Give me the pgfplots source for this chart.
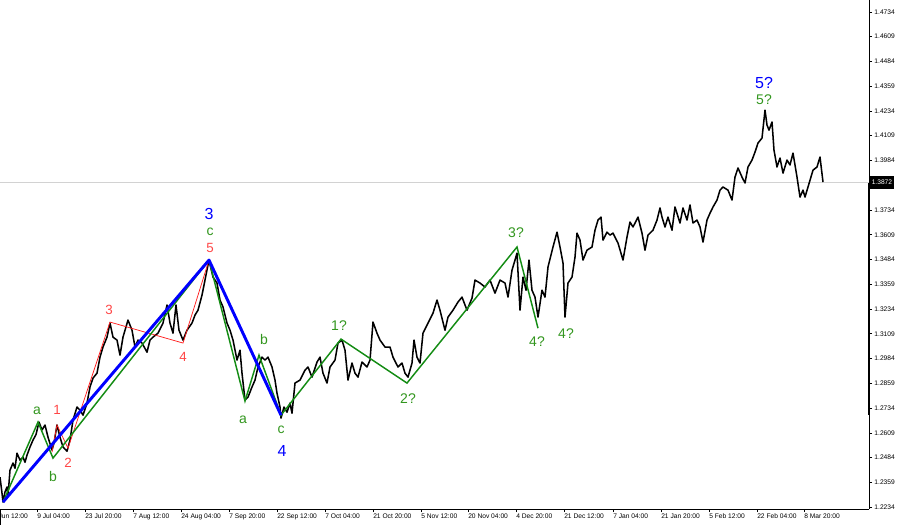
\documentclass[border=0pt]{standalone}
\usepackage{pgfplots}
\pgfplotsset{compat=1.18}
\usepackage{pgfplotstable}
\usepackage{fontspec}
\setmainfont{Liberation Sans}
\definecolor{wblue}{RGB}{0,0,255}
\definecolor{wgreen}{RGB}{20,140,20}
\definecolor{wgreenlab}{RGB}{50,150,30}
\definecolor{wred}{RGB}{255,30,30}
\definecolor{wredlab}{RGB}{255,70,70}

\pgfplotstableread{
x y
0 1.2385
2 1.2304
3 1.2259
5 1.2310
7 1.2335
8 1.2290
10 1.2420
13 1.2456
15 1.2430
17 1.2506
20 1.2471
23 1.2486
25 1.2460
27 1.2496
30 1.2537
33 1.2572
36 1.2600
39 1.2663
42 1.2623
45 1.2648
48 1.2587
52 1.2522
54 1.2557
57 1.2648
60 1.2587
63 1.2537
67 1.2516
70 1.2572
73 1.2673
77 1.2739
80 1.2723
83 1.2698
87 1.2759
90 1.2840
93 1.2885
97 1.2910
100 1.2991
103 1.3042
107 1.3092
110 1.3163
113 1.3092
117 1.3077
120 1.3001
123 1.3092
128 1.3178
132 1.3127
135 1.3042
138 1.3077
142 1.3062
147 1.3016
150 1.3077
153 1.3092
158 1.3112
163 1.3163
167 1.3254
170 1.3163
173 1.3112
176 1.3254
179 1.3127
183 1.3077
187 1.3127
192 1.3163
195 1.3203
198 1.3228
202 1.3304
205 1.3380
209 1.3481
213 1.3395
217 1.3365
220 1.3279
223 1.3244
227 1.3163
230 1.3127
233 1.3077
237 1.2976
240 1.3026
242 1.2910
245 1.2774
248 1.2789
252 1.2840
255 1.2875
258 1.2941
262 1.2991
265 1.2976
268 1.2991
272 1.2941
275 1.2875
277 1.2809
280 1.2739
281 1.2683
284 1.2739
287 1.2713
290 1.2759
292 1.2708
295 1.2860
300 1.2875
305 1.2925
308 1.2941
312 1.2890
317 1.2966
320 1.2991
323 1.2910
327 1.2860
330 1.2941
335 1.2976
338 1.3062
342 1.3077
345 1.3026
348 1.2875
352 1.2961
355 1.2910
358 1.2890
362 1.2966
367 1.2941
370 1.2976
373 1.3168
377 1.3112
380 1.3077
385 1.3042
390 1.3042
393 1.2991
398 1.2941
402 1.2961
405 1.2910
408 1.2890
412 1.2961
414 1.3077
417 1.2991
420 1.2961
423 1.3112
428 1.3163
433 1.3213
437 1.3279
440 1.3228
445 1.3127
448 1.3193
453 1.3228
458 1.3269
462 1.3294
467 1.3228
472 1.3289
475 1.3380
480 1.3365
485 1.3345
490 1.3380
495 1.3314
500 1.3380
505 1.3365
508 1.3294
512 1.3430
515 1.3481
517 1.3516
520 1.3228
523 1.3395
526 1.3329
529 1.3481
532 1.3329
535 1.3294
538 1.3193
542 1.3329
545 1.3294
548 1.3446
553 1.3547
557 1.3622
560 1.3547
563 1.3466
565 1.3193
568 1.3365
572 1.3395
575 1.3496
577 1.3617
580 1.3582
583 1.3481
587 1.3531
592 1.3547
595 1.3632
598 1.3683
601 1.3698
603 1.3582
607 1.3622
610 1.3607
613 1.3617
618 1.3567
623 1.3481
627 1.3597
630 1.3673
633 1.3648
638 1.3698
642 1.3617
645 1.3531
648 1.3607
653 1.3632
657 1.3683
660 1.3744
662 1.3698
665 1.3648
668 1.3698
672 1.3632
675 1.3749
680 1.3668
683 1.3744
687 1.3683
690 1.3759
693 1.3668
697 1.3683
700 1.3648
703 1.3572
707 1.3683
710 1.3718
713 1.3749
717 1.3784
720 1.3834
723 1.3850
728 1.3834
732 1.3784
735 1.3900
738 1.3946
742 1.3900
745 1.3870
748 1.3951
752 1.3986
755 1.4026
758 1.4072
762 1.4097
765 1.4238
767 1.4163
769 1.4137
772 1.4178
774 1.4036
777 1.3951
780 1.3996
783 1.3920
787 1.3986
790 1.3961
793 1.4021
797 1.3900
800 1.3799
803 1.3834
805 1.3799
808 1.3850
813 1.3935
817 1.3951
820 1.4001
823 1.3875
}\price

\tikzset{
  gl/.style={text=wgreenlab, font=\fontsize{10.5}{12}\selectfont, inner sep=0pt},
  rl/.style={text=wredlab, font=\fontsize{10}{12}\selectfont, inner sep=0pt},
  bl/.style={text=wblue, font=\fontsize{12}{14}\selectfont, inner sep=0pt},
}

\begin{document}
\begin{tikzpicture}
\useasboundingbox (0,0) rectangle (675pt,393.75pt);
\begin{axis}[
  at={(0pt,12pt)}, anchor=south west,
  scale only axis, width=651.75pt, height=381.75pt,
  xmin=0, xmax=869, ymin=1.2224, ymax=1.4794,
  clip=false,
  axis x line*=bottom, axis y line*=right,
  axis line style={black, line width=0.6pt},
  tick align=outside, major tick length=2.4pt,
  tick style={black, line width=0.4pt},
  xtick={37,85,133,181,229,277,325,373,421,468,516,564,613,661,709,757,804},
  xticklabels={9 Jul 04:00,23 Jul 20:00,7 Aug 12:00,24 Aug 04:00,7 Sep 20:00,22 Sep 12:00,7 Oct 04:00,21 Oct 20:00,5 Nov 12:00,20 Nov 04:00,4 Dec 20:00,21 Dec 12:00,7 Jan 04:00,21 Jan 20:00,5 Feb 12:00,22 Feb 04:00,8 Mar 20:00},
  xticklabel style={font=\fontsize{5}{6}\selectfont, anchor=north west, inner sep=1pt, xshift=-1pt},
  ytick={1.2234,1.2359,1.2484,1.2609,1.2734,1.2859,1.2984,1.3109,1.3234,1.3359,1.3484,1.3609,1.3734,1.3984,1.4109,1.4234,1.4359,1.4484,1.4609,1.4734},
  yticklabels={1.2234,1.2359,1.2484,1.2609,1.2734,1.2859,1.2984,1.3109,1.3234,1.3359,1.3484,1.3609,1.3734,1.3984,1.4109,1.4234,1.4359,1.4484,1.4609,1.4734},
  yticklabel style={font=\fontsize{5}{6}\selectfont, inner sep=1.5pt},
]
% current price line
\addplot[gray!35, line width=0.6pt] coordinates {(0,1.3872) (869,1.3872)};
% price path
\addplot[black, line width=1.15pt, line join=round] table[x=x,y=y] {\price};
% red subwaves
\addplot[wred, line width=0.55pt] coordinates {(52,1.2511) (57,1.2648) (68,1.2531) (110,1.3168) (183,1.3062) (209,1.3481)};
% green lines
\addplot[wgreen, line width=1.1pt] coordinates {(3,1.2259) (38,1.2663) (53,1.2481) (209,1.3481)};
\addplot[wgreen, line width=1.1pt] coordinates {(209,1.3481) (245,1.2769) (259,1.3001) (281,1.2698) (341,1.3082) (407,1.2860) (517,1.3547) (538,1.3137)};
% blue lines
\addplot[wblue, line width=2.2pt, line join=round] coordinates {(3,1.2259) (209,1.3481) (281,1.2698)};
% right axis thick segment
\draw[black, line width=1.6pt] (axis cs:869,1.3872) -- (axis cs:869,1.2700);
% current price box
\node[anchor=west, fill=black, text=white, font=\fontsize{5}{6}\selectfont, inner xsep=1.5pt, minimum height=9pt] at (axis cs:869.5,1.3872) {1.3872};
% first label, cut at the left edge as in the reference
\node[anchor=north west, font=\fontsize{5}{6}\selectfont, inner sep=1pt] at ([yshift=-2.4pt,xshift=-1pt]axis cs:-11,1.2224) {24 Jun 12:00};
\draw[black, line width=0.4pt] (axis cs:0,1.2224) -- ++(0,-2.4pt);
% labels
\node[gl] at (axis cs:37,1.2718) {a};
\node[gl] at (axis cs:53,1.2390) {b};
\node[rl] at (axis cs:57,1.2723) {1};
\node[rl] at (axis cs:68,1.2456) {2};
\node[rl] at (axis cs:109,1.3228) {3};
\node[rl] at (axis cs:183,1.2991) {4};
\node[rl] at (axis cs:210,1.3542) {5};
\node[gl] at (axis cs:210,1.3622) {c};
\node[bl] at (axis cs:209,1.3713) {3};
\node[gl] at (axis cs:243,1.2673) {a};
\node[gl] at (axis cs:264,1.3082) {b};
\node[gl] at (axis cs:281,1.2623) {c};
\node[bl] at (axis cs:282,1.2516) {4};
\node[gl] at (axis cs:339,1.3148) {1?};
\node[gl] at (axis cs:408,1.2779) {2?};
\node[gl] at (axis cs:516,1.3617) {3?};
\node[gl] at (axis cs:537,1.3067) {4?};
\node[gl] at (axis cs:566,1.3112) {4?};
\node[bl] at (axis cs:764,1.4375) {5?};
\node[gl] at (axis cs:764,1.4289) {5?};
\end{axis}
\end{tikzpicture}
\end{document}
